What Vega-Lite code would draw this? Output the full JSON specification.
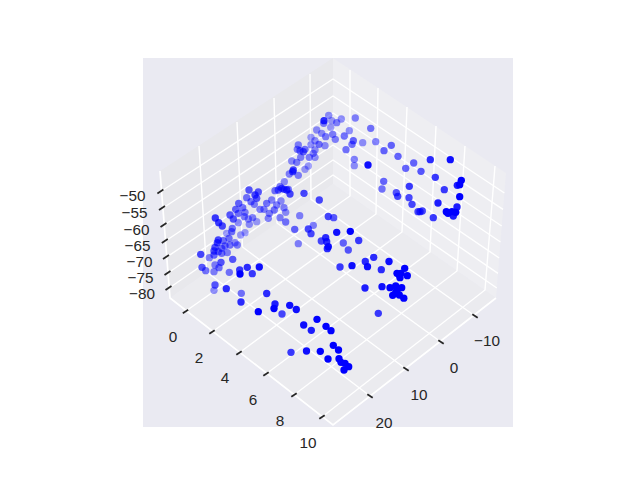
{"$schema":"https://vega.github.io/schema/vega-lite/v6.json","width":370,"height":369,"autosize":{"type":"none"},"padding":{"left":143,"top":58,"right":127,"bottom":53},"background":"white","view":{"fill":"#EAEAF2","stroke":null},
"datasets":{
"panes":[
{"x":160,"y":171,"p":"left","o":0},{"x":333,"y":58,"p":"left","o":1},{"x":333,"y":184,"p":"left","o":2},{"x":170,"y":298,"p":"left","o":3},{"x":160,"y":171,"p":"left","o":4},
{"x":333,"y":58,"p":"right","o":0},{"x":506,"y":173,"p":"right","o":1},{"x":496,"y":298,"p":"right","o":2},{"x":333,"y":184,"p":"right","o":3},{"x":333,"y":58,"p":"right","o":4},
{"x":170,"y":298,"p":"floor","o":0},{"x":333,"y":184,"p":"floor","o":1},{"x":496,"y":298,"p":"floor","o":2},{"x":333,"y":425,"p":"floor","o":3},{"x":170,"y":298,"p":"floor","o":4}],
"grid":[
{"x":161.6,"y":191,"l":"z50","o":0},{"x":333,"y":79,"l":"z50","o":1},{"x":504.4,"y":193,"l":"z50","o":2},
{"x":163,"y":208,"l":"z55","o":0},{"x":333,"y":96,"l":"z55","o":1},{"x":503,"y":209.4,"l":"z55","o":2},
{"x":164.3,"y":225,"l":"z60","o":0},{"x":333,"y":113,"l":"z60","o":1},{"x":501.7,"y":226,"l":"z60","o":2},
{"x":165.5,"y":241,"l":"z65","o":0},{"x":333,"y":129,"l":"z65","o":1},{"x":500.5,"y":242,"l":"z65","o":2},
{"x":166.8,"y":257,"l":"z70","o":0},{"x":333,"y":145,"l":"z70","o":1},{"x":499.2,"y":258,"l":"z70","o":2},
{"x":168,"y":273,"l":"z75","o":0},{"x":333,"y":160,"l":"z75","o":1},{"x":498,"y":273.4,"l":"z75","o":2},
{"x":169.2,"y":288,"l":"z80","o":0},{"x":333,"y":175,"l":"z80","o":1},{"x":496.8,"y":288,"l":"z80","o":2},
{"x":186,"y":311,"l":"a0","o":0},{"x":350,"y":196,"l":"a0","o":1},{"x":350,"y":70,"l":"a0","o":2},
{"x":212,"y":332,"l":"a2","o":0},{"x":376,"y":214,"l":"a2","o":1},{"x":378,"y":88,"l":"a2","o":2},
{"x":239,"y":353,"l":"a4","o":0},{"x":402,"y":232,"l":"a4","o":1},{"x":407,"y":107,"l":"a4","o":2},
{"x":266,"y":374,"l":"a6","o":0},{"x":430,"y":252,"l":"a6","o":1},{"x":436,"y":126,"l":"a6","o":2},
{"x":294,"y":395,"l":"a8","o":0},{"x":457,"y":271,"l":"a8","o":1},{"x":465,"y":146,"l":"a8","o":2},
{"x":322,"y":417,"l":"a10","o":0},{"x":485,"y":290,"l":"a10","o":1},{"x":495,"y":166,"l":"a10","o":2},
{"x":475,"y":316,"l":"b-10","o":0},{"x":311,"y":199.4,"l":"b-10","o":1},{"x":310,"y":74,"l":"b-10","o":2},
{"x":441,"y":342,"l":"b0","o":0},{"x":277,"y":223,"l":"b0","o":1},{"x":274,"y":98,"l":"b0","o":2},
{"x":406,"y":369,"l":"b10","o":0},{"x":242.5,"y":247,"l":"b10","o":1},{"x":237,"y":122,"l":"b10","o":2},
{"x":370,"y":396,"l":"b20","o":0},{"x":206.7,"y":272,"l":"b20","o":1},{"x":199,"y":146,"l":"b20","o":2}],
"edges":[
{"x":160,"y":171,"l":"e","o":0},{"x":170,"y":298,"l":"e","o":1},{"x":333,"y":425,"l":"e","o":2},{"x":496,"y":298,"l":"e","o":3}],
"ticks":[
{"x":157.4,"y":193.5,"l":"t1"},{"x":163.4,"y":189.5,"l":"t1"},{"x":159,"y":210,"l":"t2"},{"x":165,"y":206,"l":"t2"},{"x":160.5,"y":227,"l":"t3"},{"x":166.5,"y":223,"l":"t3"},{"x":161.8,"y":243,"l":"t4"},{"x":167.8,"y":239,"l":"t4"},{"x":163,"y":259,"l":"t5"},{"x":169,"y":255,"l":"t5"},{"x":164.5,"y":275,"l":"t6"},{"x":170.5,"y":271,"l":"t6"},{"x":165.5,"y":290,"l":"t7"},{"x":171.5,"y":286,"l":"t7"},
{"x":182.8,"y":313.3,"l":"a1"},{"x":188.2,"y":309.7,"l":"a1"},{"x":209.3,"y":333.8,"l":"a2"},{"x":214.7,"y":330.2,"l":"a2"},{"x":236.3,"y":354.8,"l":"a3"},{"x":241.7,"y":351.2,"l":"a3"},{"x":263.3,"y":375.8,"l":"a4"},{"x":268.7,"y":372.2,"l":"a4"},{"x":291.3,"y":396.8,"l":"a5"},{"x":296.7,"y":393.2,"l":"a5"},{"x":319.3,"y":418.8,"l":"a6"},{"x":324.7,"y":415.2,"l":"a6"},
{"x":472.3,"y":314.2,"l":"b1"},{"x":477.7,"y":317.8,"l":"b1"},{"x":438.3,"y":340.2,"l":"b2"},{"x":443.7,"y":343.8,"l":"b2"},{"x":403.3,"y":367.2,"l":"b3"},{"x":408.7,"y":370.8,"l":"b3"},{"x":367.3,"y":394.2,"l":"b4"},{"x":372.7,"y":397.8,"l":"b4"}],
"labels":[
{"x":132.5,"y":196,"t":"−50"},{"x":134.5,"y":213,"t":"−55"},{"x":136.5,"y":229.5,"t":"−60"},{"x":137.5,"y":246,"t":"−65"},{"x":139.5,"y":262,"t":"−70"},{"x":140.5,"y":278,"t":"−75"},{"x":142,"y":293.5,"t":"−80"},
{"x":173,"y":337,"t":"0"},{"x":199,"y":358,"t":"2"},{"x":225,"y":378,"t":"4"},{"x":253,"y":400,"t":"6"},{"x":280,"y":421,"t":"8"},{"x":308,"y":443,"t":"10"},
{"x":487,"y":341,"t":"−10"},{"x":454,"y":368,"t":"0"},{"x":419,"y":395,"t":"10"},{"x":384,"y":423,"t":"20"}],
"points":[
{"x":328.7,"y":115.3,"d":0.5},{"x":324,"y":120.7,"d":0.85},{"x":323.7,"y":123.3,"d":0.55},{"x":341.3,"y":119,"d":0.5},{"x":336.7,"y":122.7,"d":0.55},{"x":355.3,"y":118,"d":0.55},{"x":331.7,"y":120.7,"d":0.45},{"x":330.7,"y":127.3,"d":0.45},{"x":370.7,"y":128.3,"d":0.6},{"x":349.3,"y":130.7,"d":0.5},{"x":316.7,"y":130,"d":0.5},{"x":321.7,"y":133.3,"d":0.5},{"x":325.7,"y":136.7,"d":0.55},{"x":332.7,"y":134.3,"d":0.55},{"x":344.3,"y":136,"d":0.6},{"x":335.3,"y":139.3,"d":0.55},{"x":311,"y":137.3,"d":0.45},{"x":315,"y":140.7,"d":0.5},{"x":319,"y":144.3,"d":0.6},{"x":311,"y":144.7,"d":0.5},{"x":325,"y":145.7,"d":0.5},{"x":298.3,"y":145,"d":0.55},{"x":297.3,"y":149.3,"d":0.55},{"x":300,"y":150.7,"d":0.6},{"x":303.3,"y":151.7,"d":0.65},{"x":305,"y":149.3,"d":0.6},{"x":315,"y":150,"d":0.5},{"x":313.3,"y":153.3,"d":0.5},{"x":300.7,"y":157.3,"d":0.55},{"x":291.7,"y":161,"d":0.5},{"x":315,"y":157.3,"d":0.5},{"x":309.3,"y":157.3,"d":0.55},{"x":296.7,"y":162.3,"d":0.55},{"x":308.3,"y":166,"d":0.45},{"x":305,"y":169.3,"d":0.45},{"x":293.3,"y":170,"d":0.75},{"x":292.7,"y":171.7,"d":0.75},{"x":289.3,"y":174,"d":0.55},{"x":298.3,"y":175.3,"d":0.55},{"x":284.3,"y":181.7,"d":0.5},{"x":353.3,"y":140.7,"d":0.65},{"x":352,"y":144.3,"d":0.6},{"x":362.7,"y":142.7,"d":0.5},{"x":375.7,"y":141.7,"d":0.55},{"x":346,"y":149.7,"d":0.6},{"x":354.3,"y":159.3,"d":0.55},{"x":354.3,"y":165.7,"d":0.5},{"x":368,"y":165,"d":0.95},{"x":281.7,"y":188.3,"d":0.7},{"x":286.7,"y":190,"d":0.75},{"x":290,"y":194,"d":0.75},{"x":304,"y":193.3,"d":0.75},{"x":319.3,"y":200,"d":0.75},{"x":278.3,"y":190,"d":0.65},{"x":275,"y":190.7,"d":0.6},{"x":288.3,"y":189.3,"d":0.6},{"x":284,"y":189.3,"d":0.65},{"x":280,"y":186.7,"d":0.55},{"x":281,"y":201,"d":0.5},{"x":276.7,"y":205,"d":0.55},{"x":284,"y":207.7,"d":0.55},{"x":285.7,"y":212.3,"d":0.5},{"x":280,"y":217.7,"d":0.55},{"x":285.7,"y":222,"d":0.6},
{"x":249,"y":190,"d":0.7},{"x":258.3,"y":192,"d":0.7},{"x":255,"y":195,"d":0.75},{"x":246.7,"y":197.7,"d":0.6},{"x":256.7,"y":198.3,"d":0.7},{"x":251,"y":201.7,"d":0.6},{"x":254.3,"y":204.3,"d":0.55},{"x":238.7,"y":203.3,"d":0.65},{"x":235.7,"y":209.3,"d":0.65},{"x":242.7,"y":207.7,"d":0.6},{"x":260,"y":209.3,"d":0.55},{"x":264,"y":209.3,"d":0.55},{"x":266.7,"y":203.3,"d":0.6},{"x":271.7,"y":200,"d":0.55},{"x":274.3,"y":210,"d":0.6},{"x":269.3,"y":213.3,"d":0.55},{"x":268.3,"y":218.3,"d":0.55},{"x":230,"y":215,"d":0.7},{"x":233.3,"y":219,"d":0.7},{"x":238.3,"y":213.3,"d":0.6},{"x":245,"y":212.3,"d":0.55},{"x":244.3,"y":216.7,"d":0.55},{"x":238.3,"y":222.7,"d":0.5},{"x":248.3,"y":219,"d":0.5},{"x":252.7,"y":217.7,"d":0.55},{"x":256.7,"y":221.7,"d":0.45},{"x":249.3,"y":224.3,"d":0.5},{"x":245,"y":232.7,"d":0.45},{"x":240.7,"y":235,"d":0.45},{"x":226.7,"y":233.3,"d":0.45},{"x":215.3,"y":218,"d":0.8},{"x":218.7,"y":222.7,"d":0.8},{"x":222.3,"y":226,"d":0.75},{"x":232.3,"y":228.3,"d":0.6},{"x":231.7,"y":231.7,"d":0.6},{"x":218.3,"y":240,"d":0.75},{"x":217.3,"y":242.7,"d":0.75},{"x":223.3,"y":240.7,"d":0.6},{"x":229,"y":238.3,"d":0.6},{"x":230,"y":245,"d":0.6},{"x":235,"y":242.7,"d":0.5},{"x":237.3,"y":245,"d":0.55},{"x":225,"y":246,"d":0.6},{"x":221.7,"y":248.3,"d":0.6},{"x":215,"y":247.3,"d":0.7},{"x":214,"y":251,"d":0.7},{"x":218.3,"y":251.7,"d":0.6},{"x":227.3,"y":252.7,"d":0.55},{"x":221.7,"y":253.3,"d":0.6},{"x":200.7,"y":254.3,"d":0.75},{"x":209.3,"y":257.7,"d":0.55},{"x":214,"y":255,"d":0.65},{"x":232.7,"y":259.3,"d":0.7},{"x":221,"y":262.3,"d":0.7},{"x":215,"y":265,"d":0.55},{"x":219,"y":267.7,"d":0.6},{"x":202,"y":267.3,"d":0.7},{"x":205.7,"y":270.7,"d":0.6},{"x":214,"y":271.7,"d":0.55},{"x":229.3,"y":272.3,"d":0.6},{"x":239.7,"y":270,"d":0.8},{"x":240,"y":274,"d":1},{"x":247.3,"y":267.3,"d":0.85},{"x":252.3,"y":273.7,"d":0.8},{"x":259.3,"y":267,"d":0.95},
{"x":215,"y":285,"d":0.7},{"x":214,"y":290.3,"d":0.5},{"x":226.3,"y":288.7,"d":0.85},{"x":241.3,"y":293.3,"d":0.6},{"x":241,"y":302,"d":0.85},{"x":266.7,"y":293.5,"d":0.85},{"x":258.3,"y":311.7,"d":1},{"x":275,"y":304,"d":0.9},{"x":274,"y":308.5,"d":1},{"x":289.7,"y":305.3,"d":0.95},{"x":296.3,"y":309.5,"d":0.95},{"x":282,"y":314,"d":0.75},{"x":303.7,"y":325,"d":0.95},{"x":311.3,"y":330.3,"d":0.9},{"x":317,"y":319.3,"d":1},{"x":326,"y":326.3,"d":1},{"x":331,"y":330.7,"d":1},{"x":333.3,"y":345.3,"d":1},{"x":338.5,"y":350,"d":1},{"x":291,"y":352.3,"d":0.8},{"x":306.5,"y":351,"d":0.95},{"x":320.3,"y":351.3,"d":1},{"x":328,"y":359,"d":1},{"x":339,"y":358.7,"d":1},{"x":341,"y":362.3,"d":1},{"x":345,"y":363.3,"d":1},{"x":348.7,"y":366.7,"d":1},{"x":344,"y":370,"d":1},
{"x":299.7,"y":215.7,"d":0.55},{"x":328.3,"y":216.5,"d":0.75},{"x":333.7,"y":217.7,"d":0.7},{"x":313.3,"y":225.3,"d":0.55},{"x":294.7,"y":229.3,"d":0.65},{"x":308.3,"y":229,"d":0.75},{"x":311,"y":233.7,"d":0.75},{"x":298.3,"y":243.7,"d":0.55},{"x":336.7,"y":232.3,"d":0.95},{"x":350.3,"y":231.3,"d":1},{"x":325.7,"y":237.7,"d":0.85},{"x":321.3,"y":241,"d":0.75},{"x":326.7,"y":241.7,"d":0.85},{"x":328.3,"y":246.7,"d":0.95},{"x":327.3,"y":248.7,"d":0.85},{"x":343.3,"y":243,"d":0.65},{"x":358.7,"y":240.5,"d":0.8},{"x":348.3,"y":250,"d":0.7},{"x":340,"y":267,"d":0.8},{"x":352,"y":265.7,"d":0.95},{"x":365.3,"y":261.5,"d":0.85},{"x":367.5,"y":266.7,"d":0.95},{"x":373.7,"y":257.3,"d":0.85},{"x":381.3,"y":269.7,"d":0.85},{"x":389,"y":261.5,"d":0.95},{"x":404.7,"y":268.3,"d":1},{"x":397,"y":273.3,"d":1},{"x":401,"y":273.3,"d":1},{"x":399.3,"y":275,"d":1},{"x":400,"y":277.7,"d":1},{"x":407.3,"y":275.7,"d":1},{"x":365,"y":288,"d":0.9},{"x":382,"y":286.7,"d":0.95},{"x":390,"y":287.7,"d":1},{"x":395.7,"y":286,"d":1},{"x":401.7,"y":287.7,"d":1},{"x":397.3,"y":289,"d":1},{"x":395.7,"y":292.7,"d":1},{"x":392.7,"y":295.3,"d":1},{"x":399.3,"y":295,"d":1},{"x":403.8,"y":298.2,"d":1},{"x":396.7,"y":290.7,"d":1},{"x":378.3,"y":313.3,"d":0.8},
{"x":391.3,"y":145.3,"d":0.65},{"x":384,"y":150.7,"d":0.65},{"x":398,"y":156.3,"d":0.65},{"x":413.7,"y":163,"d":0.65},{"x":405.7,"y":168.3,"d":0.65},{"x":421,"y":171.3,"d":0.7},{"x":430.3,"y":159.7,"d":0.85},{"x":450.3,"y":159.7,"d":0.95},{"x":435.3,"y":177.3,"d":0.8},{"x":383.7,"y":181.3,"d":0.65},{"x":382,"y":189,"d":0.6},{"x":409.3,"y":186.3,"d":0.8},{"x":396.3,"y":192.7,"d":0.7},{"x":397.7,"y":196.3,"d":0.75},{"x":409,"y":197.7,"d":0.75},{"x":412,"y":204.3,"d":0.75},{"x":418,"y":211.7,"d":0.75},{"x":422.3,"y":211,"d":0.75},{"x":420,"y":211.7,"d":0.75},{"x":433.3,"y":217.7,"d":0.8},{"x":438,"y":203,"d":0.9},{"x":444.3,"y":189.7,"d":0.8},{"x":461.3,"y":180.3,"d":1},{"x":459.7,"y":184.7,"d":1},{"x":457.3,"y":185.3,"d":0.9},{"x":459.7,"y":196.7,"d":1},{"x":457,"y":207,"d":0.9},{"x":455.7,"y":212.3,"d":1},{"x":452,"y":211.7,"d":1},{"x":446.3,"y":211.7,"d":1},{"x":448,"y":213.3,"d":1},{"x":453.3,"y":216,"d":0.9}]
},
"encoding":{"x":{"field":"x","type":"quantitative","axis":null,"scale":{"domain":[143,513]}},"y":{"field":"y","type":"quantitative","axis":null,"scale":{"domain":[427,58]}}},
"layer":[
{"data":{"name":"panes"},"transform":[{"filter":"datum.p==='left'"}],"mark":{"type":"line","fill":"#E8E8EC","stroke":null},"encoding":{"order":{"field":"o"}}},
{"data":{"name":"panes"},"transform":[{"filter":"datum.p==='right'"}],"mark":{"type":"line","fill":"#EEEEF2","stroke":null},"encoding":{"order":{"field":"o"}}},
{"data":{"name":"panes"},"transform":[{"filter":"datum.p==='floor'"}],"mark":{"type":"line","fill":"#EBEBEF","stroke":null},"encoding":{"order":{"field":"o"}}},
{"data":{"name":"grid"},"mark":{"type":"line","color":"white","strokeWidth":1.4},"encoding":{"detail":{"field":"l"},"order":{"field":"o"}}},
{"data":{"name":"edges"},"mark":{"type":"line","color":"white","strokeWidth":1.7},"encoding":{"detail":{"field":"l"},"order":{"field":"o"}}},
{"data":{"name":"ticks"},"mark":{"type":"line","color":"#262626","strokeWidth":1.7},"encoding":{"detail":{"field":"l"}}},
{"data":{"name":"labels"},"mark":{"type":"text","font":"Liberation Sans","fontSize":15.3,"color":"#262626","align":"center","baseline":"middle"},"encoding":{"text":{"field":"t"}}},
{"data":{"name":"points"},"mark":{"type":"point","filled":true,"color":"#0000FF","size":54,"strokeWidth":0},"encoding":{"opacity":{"field":"d","type":"quantitative","scale":{"domain":[0.45,1],"range":[0.36,1]},"legend":null}}}
]}
